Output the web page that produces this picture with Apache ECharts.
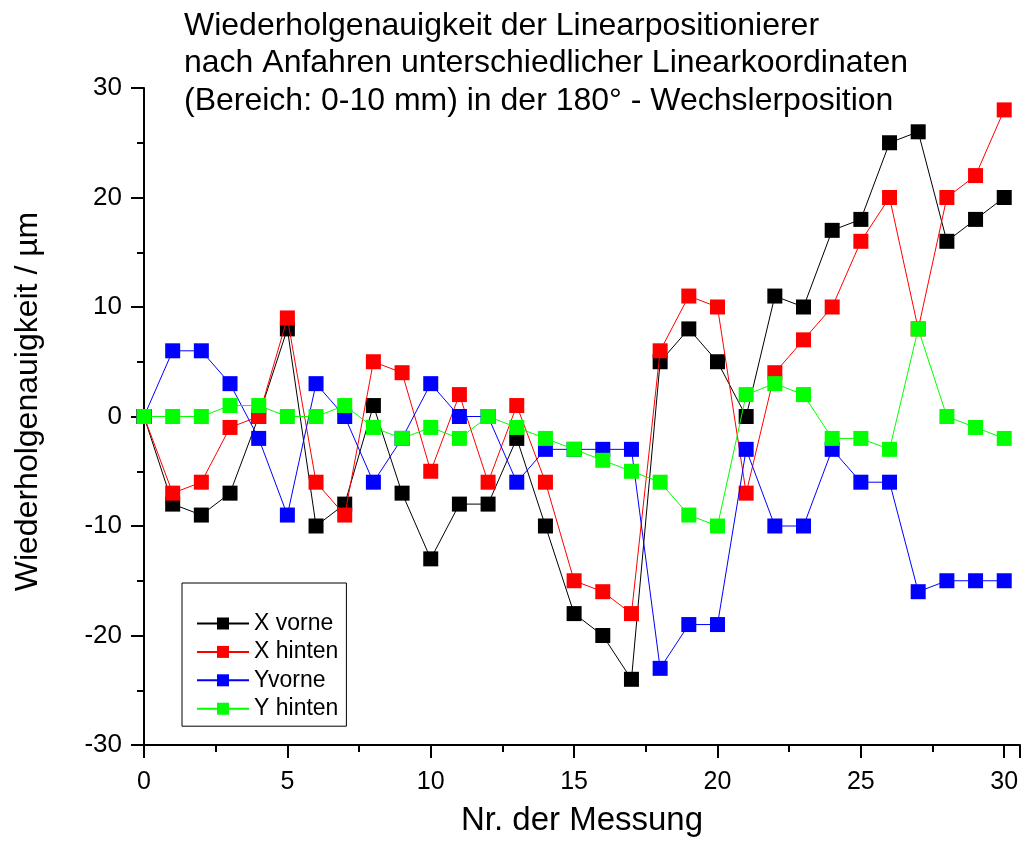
<!DOCTYPE html>
<html>
<head>
<meta charset="utf-8">
<script src="https://cdn.jsdelivr.net/npm/echarts@6/dist/echarts.min.js"></script>
<style>html,body{margin:0;padding:0;background:#fff}#c{width:1026px;height:845px}</style>
</head>
<body>
<div id="c"></div>
<script>
const messung = [0,1,2,3,4,5,6,7,8,9,10,11,12,13,14,15,16,17,18,19,20,21,22,23,24,25,26,27,28,29,30];
const xVorne  = [0,-8,-9,-7,0,8,-10,-8,1,-7,-13,-8,-8,-2,-10,-18,-20,-24,5,8,5,0,11,10,17,18,25,26,16,18,20];
const xHinten = [0,-7,-6,-1,0,9,-6,-9,5,4,-5,2,-6,1,-6,-15,-16,-18,6,11,10,-7,4,7,10,16,20,8,20,22,28];
const yVorne  = [0,6,6,3,-2,-9,3,0,-6,-2,3,0,0,-6,-3,-3,-3,-3,-23,-19,-19,-3,-10,-10,-3,-6,-6,-16,-15,-15,-15];
const yHinten = [0,0,0,1,1,0,0,1,-1,-2,-1,-2,0,-1,-2,-3,-4,-5,-6,-9,-10,2,3,2,-2,-2,-3,8,0,-1,-2];
const seriesNames = ['X vorne','X hinten','Yvorne','Y hinten'];
const seriesColors = ['#000000','#ff0000','#0000ff','#00ff00'];
const seriesValues = [xVorne, xHinten, yVorne, yHinten];
const titleText = 'Wiederholgenauigkeit der Linearpositionierer\nnach Anfahren unterschiedlicher Linearkoordinaten\n(Bereich: 0-10 mm) in der 180° - Wechslerposition';

const font = 'Liberation Sans, Arial, sans-serif';
const chart = echarts.init(document.getElementById('c'));
chart.setOption({
  backgroundColor: '#fff',
  animation: false,
  title: {
    text: titleText, left: 184, top: 7, padding: 0,
    textStyle: {fontFamily: font, fontSize: 32, fontWeight: 'normal', color: '#000', lineHeight: 37.5}
  },
  legend: {
    orient: 'vertical', left: 182, top: 583,
    padding: [29, 8, 6, 14],
    itemGap: 5.4, itemWidth: 52, itemHeight: 15,
    borderColor: '#000', borderWidth: 1, backgroundColor: '#fff',
    textStyle: {fontFamily: font, fontSize: 23, lineHeight: 22, color: '#000'},
    data: seriesNames
  },
  grid: {left: 144, top: 88, width: 876, height: 657, containLabel: false},
  xAxis: {
    type: 'value', min: 0, max: 30.55, interval: 5,
    name: 'Nr. der Messung', nameLocation: 'middle', nameGap: 59,
    nameTextStyle: {fontFamily: font, fontSize: 33, color: '#000'},
    axisLine: {show: true, onZero: false, lineStyle: {color: '#000', width: 2}},
    axisTick: {show: true, length: 13, lineStyle: {color: '#000', width: 2}},
    minorTick: {show: true, splitNumber: 2, length: 7, lineStyle: {color: '#000', width: 2}},
    axisLabel: {fontFamily: font, fontSize: 25, color: '#000', margin: 25,
      formatter: v => (v % 5 === 0 && v <= 30) ? String(v) : ''},
    splitLine: {show: false}
  },
  yAxis: {
    type: 'value', min: -30, max: 30, interval: 10,
    name: 'Wiederholgenauigkeit / µm', nameLocation: 'middle', nameGap: 100,
    nameTextStyle: {fontFamily: font, fontSize: 32, color: '#000', padding: [0, 0, 0, 30]},
    axisLine: {show: true, onZero: false, lineStyle: {color: '#000', width: 2}},
    axisTick: {show: true, length: 13, lineStyle: {color: '#000', width: 2}},
    minorTick: {show: true, splitNumber: 2, length: 7, lineStyle: {color: '#000', width: 2}},
    axisLabel: {fontFamily: font, fontSize: 26, color: '#000', margin: 22},
    splitLine: {show: false}
  },
  series: seriesNames.map((n, i) => ({
    name: n, type: 'line',
    data: messung.map((x, k) => [x, seriesValues[i][k]]),
    symbol: 'rect', symbolSize: 15,
    itemStyle: {color: seriesColors[i]},
    lineStyle: {color: seriesColors[i], width: 1},
    z: 2 + i
  }))
});
</script>
</body>
</html>
